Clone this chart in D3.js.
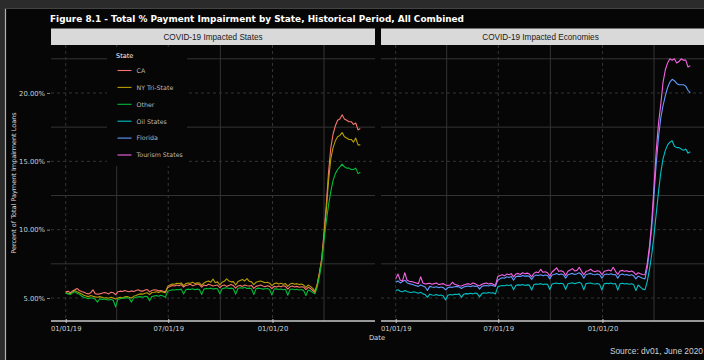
<!DOCTYPE html>
<html>
<head>
<meta charset="utf-8">
<script src="https://cdn.jsdelivr.net/npm/d3@7"></script>
<style>
  body { margin: 0; background: #2b2b2b; }
  svg { display: block; }
</style>
</head>
<body>
<svg id="chart" width="704" height="360"></svg>
<script>
// Observations every 4 days starting 2019-01-01 (values are % of loans in payment impairment)
const startDate = new Date(2019, 0, 1);
const stepDays = 4;

const seriesNames = ["CA", "NY Tri-State", "Other", "Oil States", "Florida", "Tourism States"];
const seriesColors = ["#F8766D", "#B79F00", "#00BA38", "#00BFC4", "#619CFF", "#F564E3"];

const panelTitles = ["COVID-19 Impacted States", "COVID-19 Impacted Economies"];
const panelSeries = [["CA", "NY Tri-State", "Other"], ["Oil States", "Florida", "Tourism States"]];

const yTicks = [5, 10, 15, 20];
const yMinor = [7.5, 12.5, 17.5, 22.5];
const xTicks = ["2019-01-01", "2019-07-01", "2020-01-01"];
const xMinor = ["2019-04-01", "2019-10-01", "2020-04-01"];

const valuesCA = [5.45,5.50,5.38,5.52,5.60,5.70,5.55,5.48,
  5.42,5.35,5.30,5.38,5.60,5.32,5.28,
  5.30,5.35,5.40,5.36,5.30,5.42,5.38,5.25,
  5.45,5.50,5.48,5.55,5.50,5.45,5.52,
  5.48,5.55,5.60,5.52,5.50,5.58,5.62,5.45,
  5.55,5.60,5.58,5.52,5.55,5.50,5.45,
  5.75,5.85,5.92,5.88,5.95,5.90,5.98,5.80,
  5.92,5.95,6.00,5.90,5.95,6.02,5.98,5.80,
  5.95,5.90,6.00,5.95,5.88,5.92,5.95,5.75,
  5.90,5.95,5.85,5.92,5.98,5.90,5.72,
  5.88,5.92,5.85,5.95,5.90,5.88,5.92,5.70,
  5.85,5.90,5.95,5.88,5.82,5.90,5.85,5.68,
  5.85,5.80,5.88,5.82,5.90,5.85,5.65,
  5.82,5.88,5.80,5.85,5.78,5.82,5.80,5.62,
  5.78,5.70,5.55,
  5.40,6.00,6.90,7.90,9.80,11.8,14.2,16.0,17.0,17.6,18.0,18.1,18.4,18.1,18.0,17.9,17.9,17.7,17.8,17.3,17.4];

const valuesNY = [5.40,5.35,5.30,5.42,5.55,5.45,5.38,5.30,
  5.20,5.15,5.10,5.18,5.12,5.08,5.05,
  5.10,5.05,5.00,5.02,4.98,5.05,5.00,4.92,
  5.00,5.05,5.02,5.08,5.10,5.05,5.00,
  5.12,5.18,5.25,5.30,5.28,5.35,5.38,5.25,
  5.40,5.42,5.45,5.40,5.48,5.42,5.38,
  5.85,5.95,6.02,6.00,6.08,6.05,6.10,5.90,
  6.05,6.10,6.08,6.15,6.05,6.12,6.10,5.92,
  6.10,6.18,6.25,6.15,6.38,6.12,6.18,5.95,
  6.15,6.22,6.40,6.25,6.18,6.20,5.95,
  6.20,6.28,6.35,6.25,6.42,6.22,6.18,5.98,
  6.15,6.20,6.25,6.18,6.12,6.15,6.08,5.90,
  6.05,6.10,6.02,6.08,6.00,6.05,5.85,
  6.02,6.08,6.00,6.05,5.98,6.02,5.95,5.78,
  5.95,5.85,5.70,
  5.50,6.00,6.80,7.80,9.50,11.4,13.6,15.2,16.0,16.5,16.8,16.9,17.1,16.8,16.7,16.6,16.6,16.4,16.7,16.2,16.2];

const valuesOther = [5.35,5.30,5.25,5.38,5.45,5.35,5.28,5.15,
  5.05,5.00,4.95,5.02,4.98,4.92,4.70,
  4.95,4.90,4.92,4.88,4.85,4.90,4.82,4.35,
  4.90,4.95,5.00,4.98,5.02,4.98,4.70,
  5.00,5.05,5.08,5.10,5.05,5.12,5.10,4.80,
  5.10,5.15,5.18,5.12,5.20,5.15,5.05,
  5.50,5.55,5.60,5.58,5.62,5.60,5.65,5.30,
  5.60,5.65,5.62,5.68,5.60,5.65,5.62,5.25,
  5.65,5.70,5.68,5.72,5.65,5.70,5.68,5.30,
  5.68,5.72,5.75,5.70,5.72,5.68,5.28,
  5.70,5.75,5.72,5.78,5.70,5.72,5.68,5.25,
  5.68,5.72,5.70,5.65,5.68,5.70,5.62,5.22,
  5.65,5.68,5.62,5.66,5.60,5.64,5.20,
  5.62,5.66,5.60,5.64,5.58,5.62,5.55,5.18,
  5.58,5.52,5.40,
  5.30,5.80,6.60,7.60,9.20,10.6,11.8,12.8,13.6,14.1,14.4,14.6,14.8,14.6,14.5,14.5,14.4,14.4,14.5,14.1,14.2];

const valuesOil = [5.55,5.60,5.50,5.45,5.55,5.48,5.42,5.40,
  5.45,5.40,5.35,5.42,5.30,5.25,5.05,
  5.28,5.22,5.20,5.25,5.18,5.22,5.15,4.85,
  5.20,5.25,5.22,5.28,5.25,5.30,5.05,
  5.28,5.32,5.30,5.35,5.30,5.36,5.32,5.08,
  5.32,5.38,5.35,5.40,5.36,5.38,5.30,
  5.80,5.88,5.92,5.90,5.95,5.92,5.96,5.60,
  5.92,5.96,5.94,5.98,5.92,5.96,5.94,5.58,
  5.98,6.02,6.00,6.05,5.98,6.02,6.00,5.62,
  6.02,6.06,6.10,6.04,6.08,6.02,5.62,
  6.04,6.08,6.12,6.05,6.10,6.15,6.05,5.60,
  6.05,6.08,6.10,6.04,6.02,6.06,6.00,5.58,
  6.04,6.08,6.05,6.10,6.02,6.06,5.58,
  6.04,6.08,6.02,6.06,6.00,6.04,5.98,5.55,
  5.95,5.80,5.65,
  5.60,6.20,7.10,8.20,9.60,11.2,12.8,14.2,15.2,15.8,16.2,16.4,16.5,16.1,16.0,16.0,15.9,15.8,15.9,15.6,15.7];

const valuesFlorida = [6.15,6.25,6.10,6.20,6.30,6.12,6.05,6.00,
  5.95,5.90,5.85,5.95,5.88,5.80,5.55,
  5.85,5.80,5.78,5.82,5.75,5.80,5.76,5.60,
  5.75,5.80,5.78,5.82,5.85,5.80,5.70,
  5.80,5.85,5.88,5.82,5.90,5.85,5.88,5.65,
  5.85,5.90,5.92,5.88,5.95,5.90,5.85,
  6.30,6.40,6.48,6.45,6.55,6.50,6.58,6.30,
  6.55,6.60,6.58,6.65,6.60,6.62,6.58,6.35,
  6.60,6.68,6.65,6.70,6.62,6.68,6.65,6.40,
  6.68,6.72,6.80,6.70,6.75,6.70,6.45,
  6.70,6.75,6.80,6.72,6.78,6.85,6.72,6.45,
  6.72,6.75,6.80,6.72,6.70,6.75,6.70,6.45,
  6.70,6.75,6.72,6.78,6.70,6.72,6.45,
  6.70,6.75,6.68,6.72,6.65,6.70,6.62,6.40,
  6.60,6.52,6.45,
  6.40,7.20,8.50,10.2,12.6,14.9,16.8,18.2,19.1,19.8,20.4,20.8,21.0,20.9,20.7,20.6,20.6,20.6,20.5,20.2,20.0];

const valuesTourism = [6.40,6.75,6.30,6.25,6.85,6.30,6.22,6.20,
  6.15,6.10,6.05,6.55,6.10,6.02,6.05,
  6.08,6.00,6.05,6.10,5.98,6.02,6.05,5.95,
  5.92,5.95,6.15,6.00,5.95,5.90,5.88,
  5.95,6.00,6.05,5.98,6.10,6.05,5.95,5.90,
  6.00,6.05,6.10,6.02,6.08,6.00,5.92,
  6.55,6.65,6.70,6.62,6.75,6.70,6.78,6.55,
  6.75,6.80,6.72,6.85,6.78,6.82,6.75,6.55,
  6.80,6.90,6.85,7.10,6.88,6.92,6.85,6.60,
  6.90,7.05,7.20,6.95,7.00,6.92,6.65,
  6.95,7.05,7.15,6.98,7.02,7.25,6.95,6.70,
  6.95,7.00,7.10,6.98,6.92,7.00,6.95,6.70,
  6.95,7.00,7.05,6.98,7.25,6.95,6.72,
  6.98,7.02,6.95,7.00,6.92,6.98,6.90,6.70,
  6.85,6.78,6.72,
  6.70,7.50,8.80,10.6,13.2,15.8,17.8,19.2,20.8,21.7,22.2,22.5,22.4,22.5,22.2,22.3,22.5,22.4,22.4,21.9,22.0];

const valuesByName = {
  "CA": valuesCA, "NY Tri-State": valuesNY, "Other": valuesOther,
  "Oil States": valuesOil, "Florida": valuesFlorida, "Tourism States": valuesTourism
};

const color = d3.scaleOrdinal().domain(seriesNames).range(seriesColors);
const parse = d3.timeParse("%Y-%m-%d");
const seriesData = name => valuesByName[name].map((v, i) => ({ date: d3.timeDay.offset(startDate, i * stepDays), v }));

const svg = d3.select("#chart");
const W = 704, H = 360;

// outer frame and dark canvas
svg.append("rect").attr("width", W).attr("height", H).attr("fill", "#2b2b2b");
svg.append("rect").attr("x", 5).attr("y", 8).attr("width", W - 5).attr("height", H - 8).attr("fill", "#060606");
svg.append("line").attr("x1", 5.5).attr("x2", 5.5).attr("y1", 8).attr("y2", H).attr("stroke", "#b0b0b0").attr("stroke-width", 1.2);
svg.append("line").attr("x1", 5).attr("x2", W).attr("y1", 8.5).attr("y2", 8.5).attr("stroke", "#444").attr("stroke-width", 1);

// title
svg.append("text").attr("x", 50).attr("y", 22)
  .attr("font-family", "DejaVu Sans").attr("font-weight", "bold").attr("font-size", 9.2)
  .attr("fill", "#ffffff").attr("textLength", 414).attr("lengthAdjust", "spacingAndGlyphs")
  .text("Figure 8.1 - Total % Payment Impairment by State, Historical Period, All Combined");

const panelTop = 45, panelBottom = 321, stripTop = 28.5;
const panels = [{ x0: 51, x1: 375 }, { x0: 381, x1: 705 }];
const y = d3.scaleLinear().domain([3.317, 23.51]).range([panelBottom, panelTop]);
const xDomain = [new Date(2018, 11, 6), new Date(2020, 5, 30)];
const gridColor = "#343434";

panels.forEach((p, pi) => {
  const x = d3.scaleTime().domain(xDomain).range([p.x0, p.x1]);
  const g = svg.append("g");

  // grid
  g.selectAll(".hmin").data(yMinor).join("line")
    .attr("x1", p.x0).attr("x2", p.x1).attr("y1", d => y(d)).attr("y2", d => y(d))
    .attr("stroke", gridColor).attr("stroke-width", 1);
  g.selectAll(".hmaj").data(yTicks).join("line")
    .attr("x1", p.x0).attr("x2", p.x1).attr("y1", d => y(d)).attr("y2", d => y(d))
    .attr("stroke", gridColor).attr("stroke-width", 1).attr("stroke-dasharray", "3,3");
  g.selectAll(".vmin").data(xMinor.map(parse)).join("line")
    .attr("x1", d => x(d)).attr("x2", d => x(d)).attr("y1", panelTop).attr("y2", panelBottom)
    .attr("stroke", gridColor).attr("stroke-width", 1);
  g.selectAll(".vmaj").data(xTicks.map(parse)).join("line")
    .attr("x1", d => x(d)).attr("x2", d => x(d)).attr("y1", panelTop).attr("y2", panelBottom)
    .attr("stroke", gridColor).attr("stroke-width", 1).attr("stroke-dasharray", "3,3");

  // strip
  svg.append("rect").attr("x", p.x0).attr("y", stripTop).attr("width", p.x1 - p.x0).attr("height", panelTop - stripTop)
    .attr("fill", "#d9d9d9");
  svg.append("text").attr("x", (p.x0 + Math.min(p.x1, 700)) / 2).attr("y", 40)
    .attr("text-anchor", "middle").attr("font-family", "Liberation Sans, Arial").attr("font-size", 8.2)
    .attr("fill", "#1a1a1a").text(panelTitles[pi]);

  // x axis
  const xAxis = d3.axisBottom(x).tickValues(xTicks.map(parse)).tickFormat(d3.timeFormat("%m/%d/%y"))
    .tickSize(2.5).tickPadding(3);
  const ax = svg.append("g").attr("transform", `translate(0,${panelBottom})`).call(xAxis);
  ax.select(".domain").attr("stroke", "#c8c8c8").attr("stroke-width", 1.6).attr("d", `M${p.x0},0H${p.x1}`);
  ax.selectAll(".tick line").attr("stroke", "#c8c8c8").attr("y1", -2).attr("y2", 2);
  ax.selectAll(".tick text").attr("fill", "#cfcfcf").attr("font-family", "DejaVu Sans").attr("font-size", 6.8);

  // series lines
  const clipId = "clip" + pi;
  svg.append("clipPath").attr("id", clipId).append("rect")
    .attr("x", p.x0).attr("y", panelTop).attr("width", p.x1 - p.x0).attr("height", panelBottom - panelTop);
  const line = d3.line().x(d => x(d.date)).y(d => y(d.v));
  svg.append("g").attr("clip-path", `url(#${clipId})`)
    .selectAll("path").data(panelSeries[pi]).join("path")
    .attr("d", name => line(seriesData(name)))
    .attr("fill", "none").attr("stroke", name => color(name))
    .attr("stroke-width", 1.1).attr("stroke-linejoin", "round");
});

// y axis (left panel only)
const yAxis = d3.axisLeft(y).tickValues(yTicks).tickFormat(d => d3.format(".2f")(d) + "%").tickSize(3).tickPadding(2);
const ay = svg.append("g").attr("transform", `translate(${panels[0].x0 - 1},0)`).call(yAxis);
ay.select(".domain").remove();
ay.selectAll(".tick line").attr("stroke", "#8a8a8a");
ay.selectAll(".tick text").attr("fill", "#cfcfcf").attr("font-family", "DejaVu Sans").attr("font-size", 6.8);

// axis titles
svg.append("text").attr("transform", "translate(16,183) rotate(-90)").attr("text-anchor", "middle")
  .attr("font-family", "DejaVu Sans").attr("font-size", 6.5).attr("fill", "#dddddd")
  .text("Percent of Total Payment Impairment Loans");
svg.append("text").attr("x", 377).attr("y", 340).attr("text-anchor", "middle")
  .attr("font-family", "DejaVu Sans").attr("font-size", 6.8).attr("fill", "#dddddd").text("Date");

// legend
const lg = svg.append("g");
lg.append("rect").attr("x", 107).attr("y", 47).attr("width", 80).attr("height", 119).attr("fill", "#060606");
lg.append("text").attr("x", 116).attr("y", 58).attr("font-family", "DejaVu Sans").attr("font-size", 6.5)
  .attr("fill", "#ffffff").text("State");
const legendY = d3.scalePoint().domain(seriesNames).range([70.5, 155]);
const items = lg.selectAll(".item").data(seriesNames).join("g").attr("transform", d => `translate(0,${legendY(d)})`);
items.append("line").attr("x1", 117.5).attr("x2", 131.5).attr("stroke", d => color(d)).attr("stroke-width", 1.1);
items.append("text").attr("x", 136.5).attr("y", 2.3).attr("font-family", "DejaVu Sans").attr("font-size", 6.3)
  .attr("fill", "#b8b8b8").text(d => d);

// caption
svg.append("text").attr("x", 703).attr("y", 354).attr("text-anchor", "end")
  .attr("font-family", "Liberation Sans, Arial").attr("font-size", 8.4).attr("fill", "#d0d0d0")
  .text("Source: dv01, June 2020");
</script>
</body>
</html>
